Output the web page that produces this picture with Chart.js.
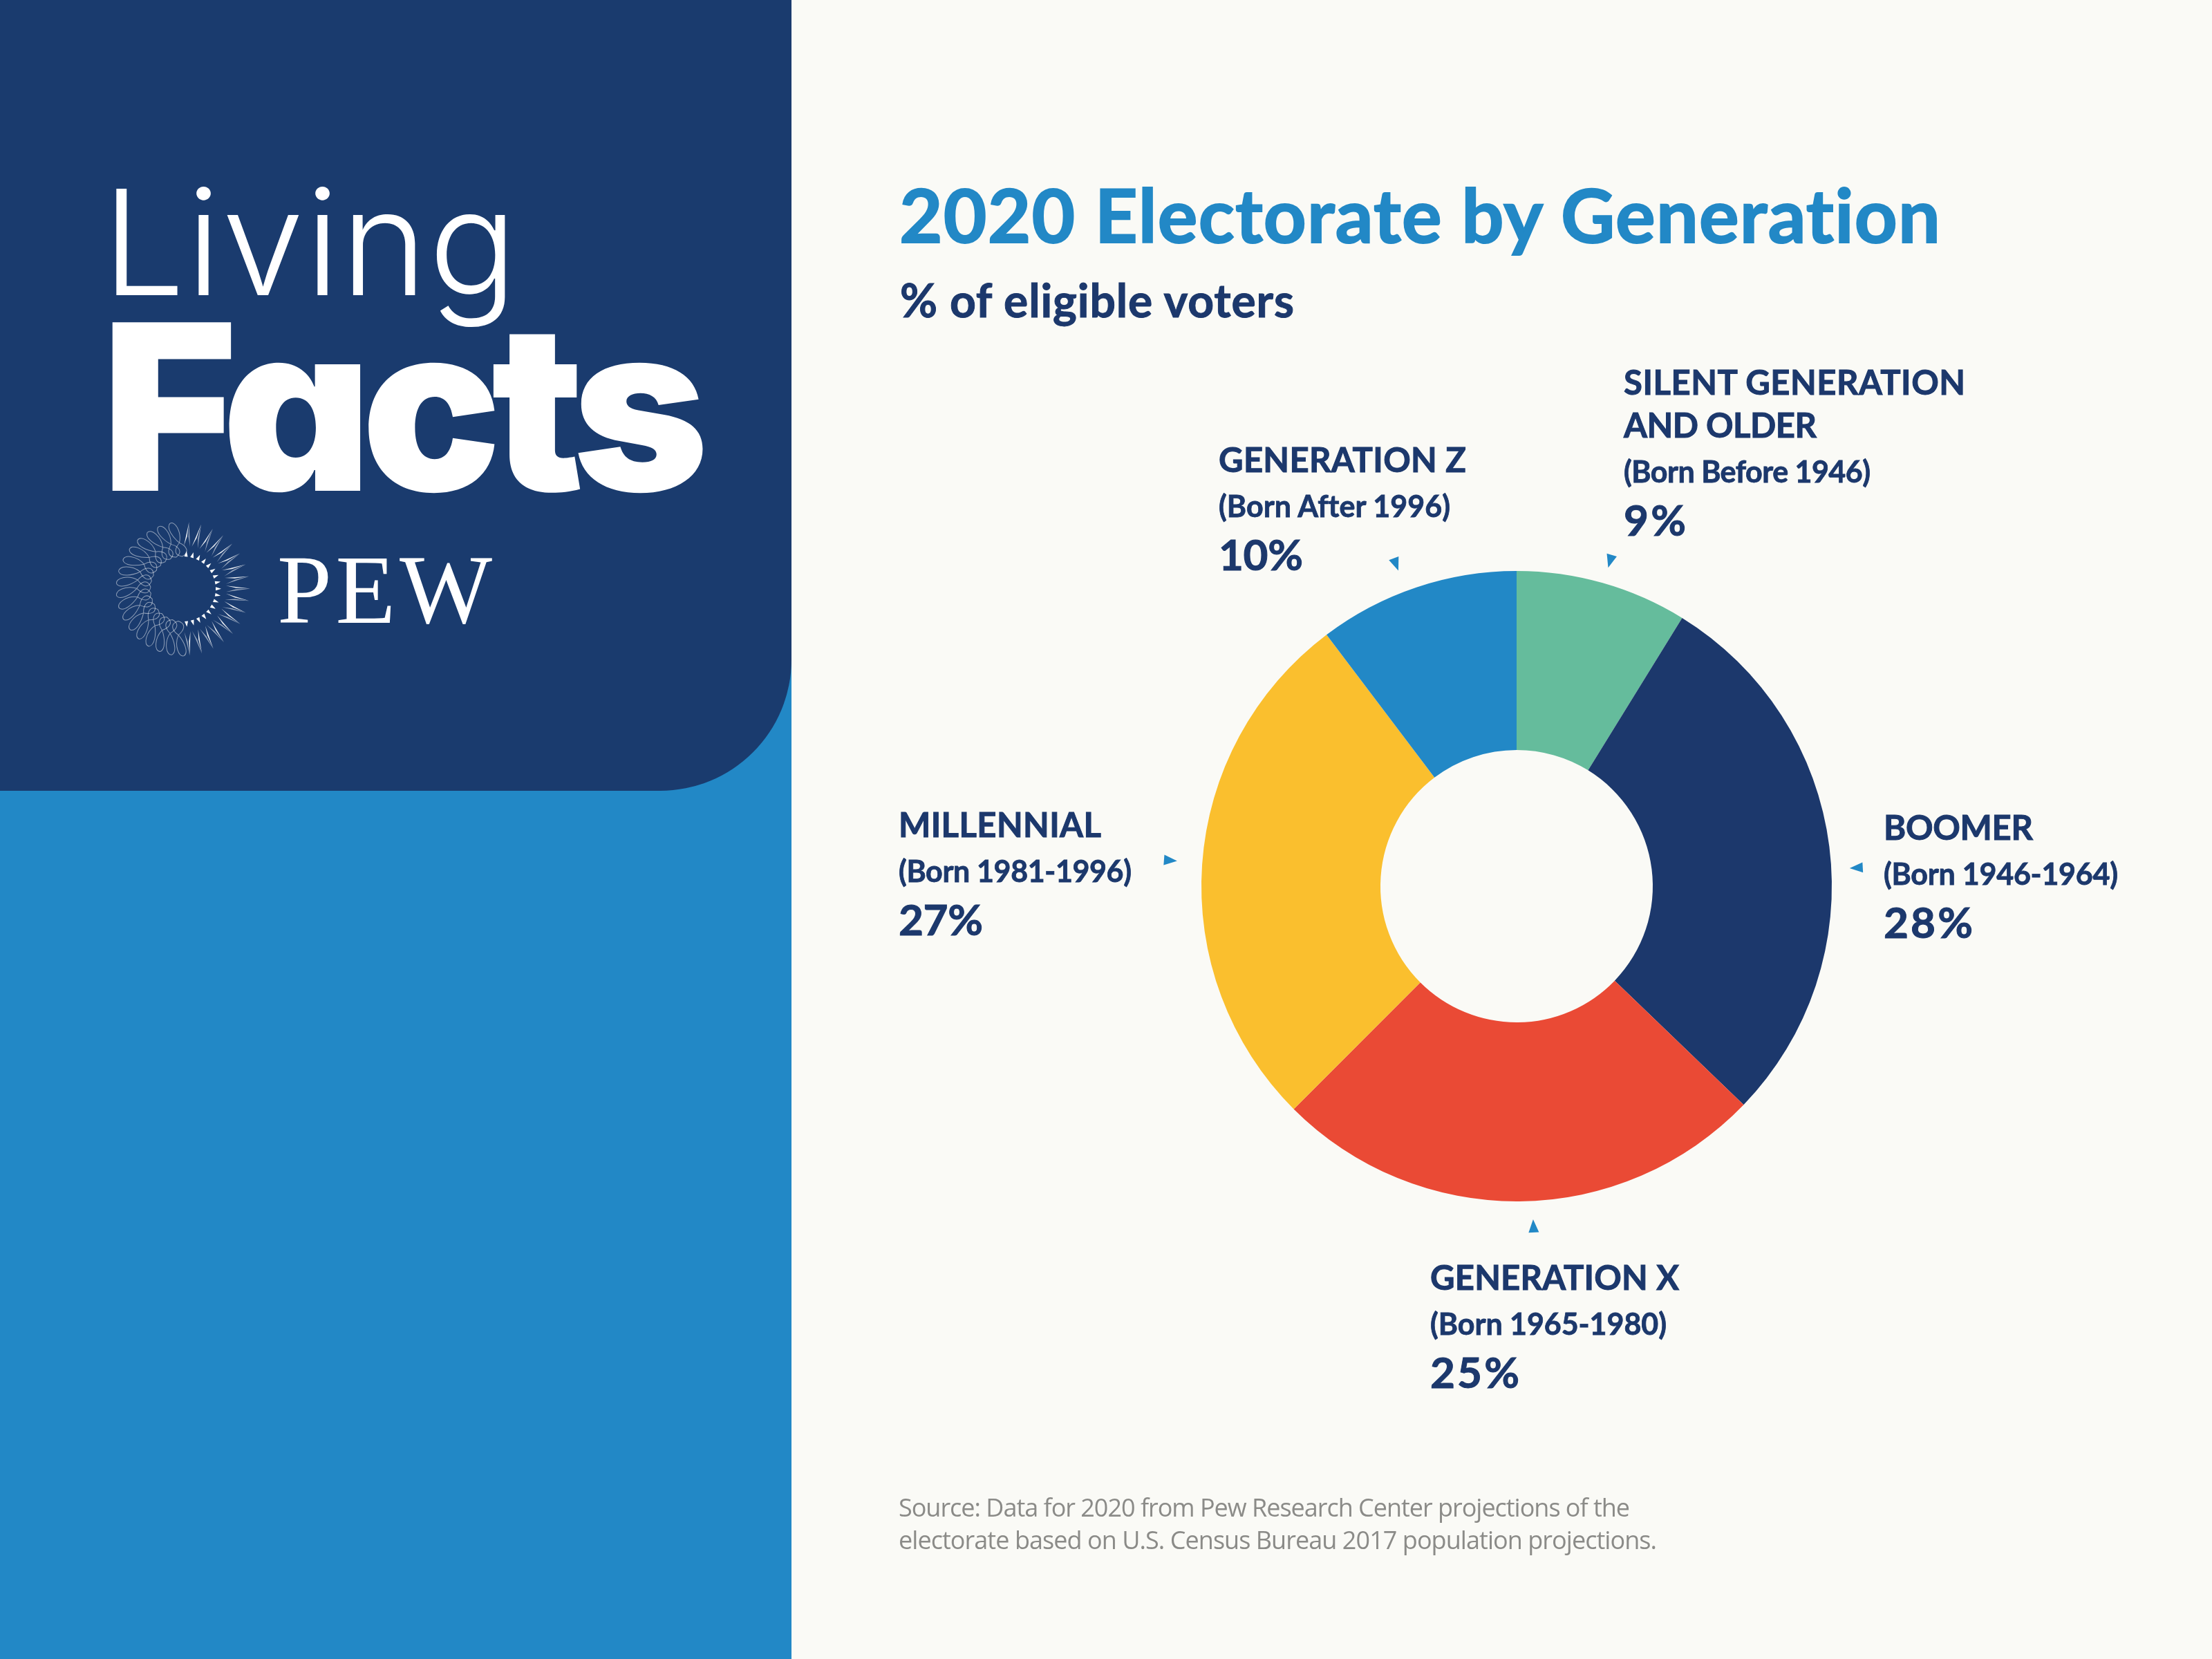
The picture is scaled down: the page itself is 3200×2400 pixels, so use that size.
<!DOCTYPE html>
<html>
<head>
<meta charset="utf-8">
<title>2020 Electorate by Generation</title>
<script src="https://cdn.jsdelivr.net/npm/chart.js@4"></script>
<style>
  html, body { margin: 0; padding: 0; background: #fafaf6; }
  #page { position: relative; width: 3200px; height: 2400px; overflow: hidden; background: #fafaf6; }
  #side { position: absolute; left: 0; top: 0; width: 1145px; height: 2400px; background: #2288c6; }
  #head { position: absolute; left: 0; top: 0; width: 1145px; height: 1144px; background: #1a3b6e; border-bottom-right-radius: 190px; }
  #wrap { position: absolute; left: 1494px; top: 582px; width: 1400px; height: 1400px; }
  #overlay { position: absolute; left: 0; top: 0; width: 3200px; height: 2400px; font-variant-ligatures: none; }
</style>
</head>
<body>
<div id="page">
  <div id="side"></div>
  <div id="head"></div>
  <div id="wrap"><canvas id="donut" width="1400" height="1400"></canvas></div>
  <svg id="overlay" xmlns="http://www.w3.org/2000/svg" viewBox="0 0 3200 2400"></svg>
</div>

<script>
/* data, clockwise from 12 o'clock */
const categories = [
  ['SILENT GENERATION', 'AND OLDER'],
  ['BOOMER'],
  ['GENERATION X'],
  ['MILLENNIAL'],
  ['GENERATION Z'],
];
const births = ['(Born Before 1946)', '(Born 1946-1964)', '(Born 1965-1980)', '(Born 1981-1996)', '(Born After 1996)'];
const shares = [9, 28, 25, 27, 10];           // as printed
const sliceShares = [8.8, 28.4, 25.3, 27.2, 10.3];
const sliceColors = ['#65bc9c', '#1c386c', '#ea4a35', '#fabf2e', '#2288c6'];

/* layout of the label blocks: x, first baseline, widths of heading lines, birth line, share */
const labelX     = [2349, 2725, 2069, 1300, 1763];
const labelY     = [571, 1215, 1866, 1211, 683];
const headWidths = [[494, 279], [216], [360], [293], [358]];
const bornWidths = [357, 339, 342, 337, 335];
const pctWidths  = [90, 129, 129, 122, 122];

/* little pointers: nudge off the slice middle (deg), gap from the rim (px) */
const pointerNudge = [0.2, 4.1, -2.3, 0.3, -2.0];
const pointerGap   = [36, 39, 39, 49, 44];

const NAVY = '#1c386c';
const BLUE = '#2288c6';
const SVG_NS = 'http://www.w3.org/2000/svg';
const overlay = document.getElementById('overlay');

function addText(str, x, y, size, weight, color, family, width, extra) {
  const t = document.createElementNS(SVG_NS, 'text');
  t.setAttribute('x', x);
  t.setAttribute('y', y);
  t.setAttribute('font-size', size);
  t.setAttribute('font-weight', weight);
  t.setAttribute('font-family', family);
  t.setAttribute('fill', color);
  if (width) {
    t.setAttribute('textLength', width);
    t.setAttribute('lengthAdjust', 'spacing');
  }
  if (extra) t.setAttribute('style', extra);
  t.textContent = str;
  overlay.appendChild(t);
}

const LABEL_FONT = 'Lato, "Noto Sans", sans-serif';
const thicken = w => `stroke:${NAVY};stroke-width:${w}px`;

// left panel
addText('Living', 148, 427, 212, 350, '#ffffff', 'Inter, sans-serif', 600);
addText('Facts', 147, 710, 335, 900, '#ffffff', 'Inter, sans-serif', 878, "font-feature-settings:'cv11'");
addText('PEW', 401, 901, 142, 400, '#ffffff', '"Liberation Serif", serif', 311);

// heading block
addText('2020 Electorate by Generation', 1301, 351, 108, 700, BLUE, LABEL_FONT, 1506, `stroke:${BLUE};stroke-width:2px`);
addText('% of eligible voters', 1302, 459, 66, 700, NAVY, LABEL_FONT, 570, thicken(1));

// labels round the ring
categories.forEach((lines, i) => {
  let y = labelY[i];
  lines.forEach((line, n) => {
    addText(line, labelX[i], y, 49, 700, NAVY, LABEL_FONT, headWidths[i][n], thicken(1));
    if (n < lines.length - 1) y += 62;
  });
  addText(births[i], labelX[i], y + 65, 43, 700, NAVY, LABEL_FONT, bornWidths[i], thicken(0.8));
  addText(shares[i] + '%', labelX[i], y + 142, 62, 700, NAVY, LABEL_FONT, pctWidths[i], thicken(1));
});

// source
addText('Source: Data for 2020 from Pew Research Center projections of the', 1300, 2194, 36, 400, '#8b8b88', '"Open Sans", sans-serif', 1058);
addText('electorate based on U.S. Census Bureau 2017 population projections.', 1300, 2241, 36, 400, '#8b8b88', '"Open Sans", sans-serif', 1097);

// pew sunburst: spikes on the right half, loops on the left
function drawLogo(cx, cy) {
  const g = document.createElementNS(SVG_NS, 'g');
  const count = 34;
  for (let i = 0; i < count; i++) {
    const deg = i * 360 / count + 5;
    const right = deg < 180;
    const item = document.createElementNS(SVG_NS, 'g');
    item.setAttribute('transform', `translate(${cx} ${cy}) rotate(${deg})`);
    if (right) {
      item.innerHTML =
        `<path d="M0 -97 L-4.5 -62 L-1 -76 Z" fill="#ffffff" opacity="0.9"/>` +
        `<path d="M0 -97 L4.5 -62 L1 -76 Z" fill="#ffffff" opacity="0.55"/>` +
        `<path d="M-2.5 -47 L2.5 -47 L0 -55 Z" fill="#ffffff"/>`;
    } else {
      item.innerHTML =
        `<path d="M3 -47 C16 -52 10 -62 1 -67 C-8 -76 -16 -90 -10 -96 C-2 -100 6 -82 1 -67 C-6 -60 -10 -50 3 -47 Z" fill="none" stroke="#ffffff" stroke-width="1" opacity="0.5"/>`;
    }
    g.appendChild(item);
  }
  overlay.appendChild(g);
}
drawLogo(265, 852);

// small triangles pointing at each slice
const pointers = {
  id: 'pointers',
  afterDatasetsDraw(chart) {
    const ctx = chart.ctx;
    chart.getDatasetMeta(0).data.forEach((arc, i) => {
      const p = arc.getProps(['x', 'y', 'startAngle', 'endAngle', 'outerRadius']);
      const mid = (p.startAngle + p.endAngle) / 2 + pointerNudge[i] * Math.PI / 180;
      const r = p.outerRadius + pointerGap[i];
      ctx.save();
      ctx.translate(p.x + Math.cos(mid) * r, p.y + Math.sin(mid) * r);
      ctx.rotate(mid);
      ctx.beginPath();
      ctx.moveTo(-12.5, 0);
      ctx.lineTo(6.5, -7.5);
      ctx.lineTo(6.5, 7.5);
      ctx.closePath();
      ctx.fillStyle = BLUE;
      ctx.fill();
      ctx.restore();
    });
  },
};

new Chart(document.getElementById('donut').getContext('2d'), {
  type: 'doughnut',
  data: {
    labels: categories.map(c => c.join(' ')),
    datasets: [{
      data: sliceShares,
      backgroundColor: sliceColors,
      borderWidth: 0,
    }],
  },
  options: {
    responsive: false,
    animation: false,
    devicePixelRatio: 1,
    cutout: '43.2%',
    layout: { padding: 244 },
    plugins: {
      legend: { display: false },
      tooltip: { enabled: false },
    },
  },
  plugins: [pointers],
});
</script>
</body>
</html>
